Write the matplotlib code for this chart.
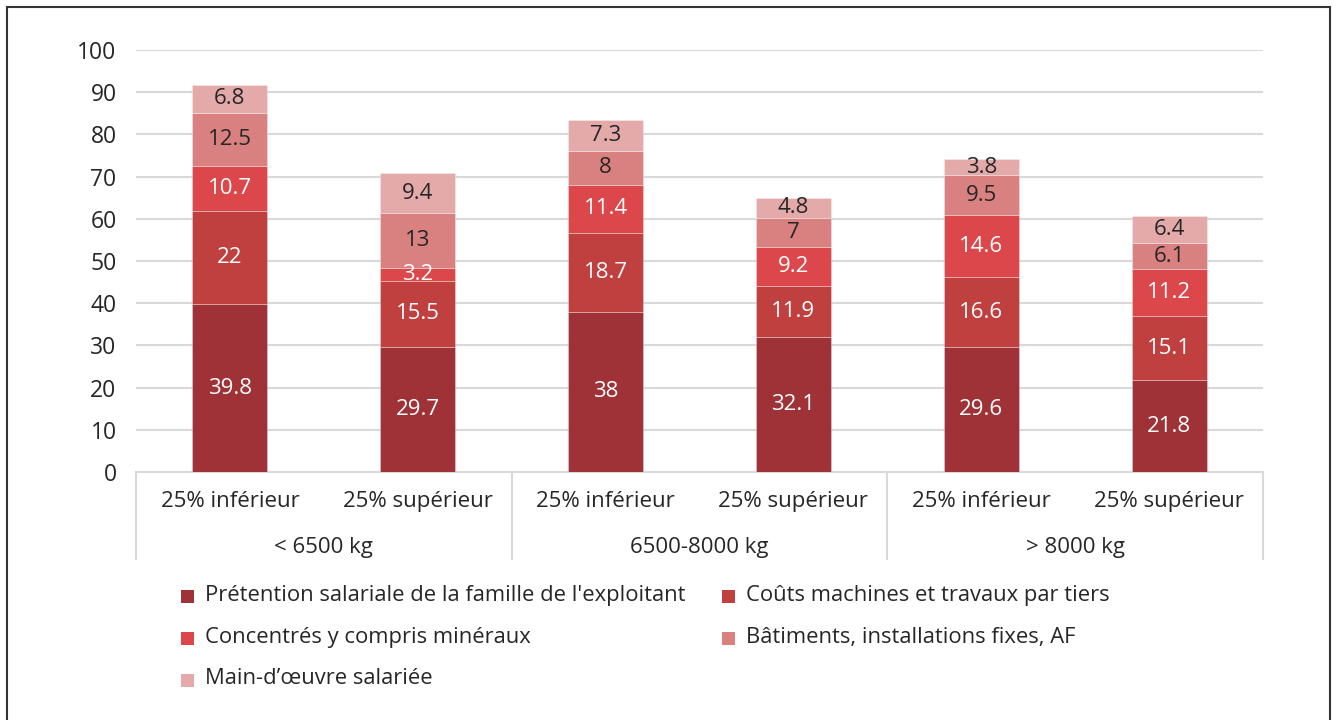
import matplotlib
matplotlib.use("Agg")
import matplotlib.pyplot as plt
from matplotlib.patches import Rectangle
import matplotlib.transforms as mtransforms

plt.rcParams['font.family'] = ['Open Sans', 'DejaVu Sans']

subcats = ["25% inférieur", "25% supérieur"] * 3
groups = ["< 6500 kg", "6500-8000 kg", "> 8000 kg"]
series_names = [
    "Prétention salariale de la famille de l'exploitant",
    "Coûts machines et travaux par tiers",
    "Concentrés y compris minéraux",
    "Bâtiments, installations fixes, AF",
    "Main-d’œuvre salariée",
]
pretention = [39.8, 29.7, 38, 32.1, 29.6, 21.8]
machines = [22, 15.5, 18.7, 11.9, 16.6, 15.1]
concentres = [10.7, 3.2, 11.4, 9.2, 14.6, 11.2]
batiments = [12.5, 13, 8, 7, 9.5, 6.1]
main_oeuvre = [6.8, 9.4, 7.3, 4.8, 3.8, 6.4]
series = [pretention, machines, concentres, batiments, main_oeuvre]
colors = ["#9E3236", "#BF403F", "#DB474A", "#D98080", "#E4A9A9"]
label_colors = ["white", "white", "white", "#262626", "#262626"]
yticks = [0, 10, 20, 30, 40, 50, 60, 70, 80, 90, 100]

W, H = 1336, 720
FS = 16
fig = plt.figure(figsize=(W / 100, H / 100), dpi=100)
ax = fig.add_axes([136 / W, 1 - 472 / H, (1263 - 136) / W, (472 - 50) / H])

x = list(range(len(subcats)))
bottom = [0.0] * len(x)
for s, name, c, lc in zip(series, series_names, colors, label_colors):
    ax.bar(x, s, 0.4, bottom=bottom, color=c, edgecolor=(1, 1, 1, 0.35),
           linewidth=0.6, zorder=3, label=name)
    for xi, b, v in zip(x, bottom, s):
        ax.text(xi, b + v / 2, f"{v:g}", ha="center", va="center", fontsize=FS,
                color=lc, zorder=4)
    bottom = [b + v for b, v in zip(bottom, s)]

ax.set_xlim(-0.5, len(x) - 0.5)
ax.set_ylim(0, 100)
ax.set_yticks(yticks)
ax.yaxis.grid(True, color="#D9D9D9", linewidth=1.5, zorder=0)
ax.set_axisbelow(True)
for sp in ["top", "right", "left"]:
    ax.spines[sp].set_visible(False)
ax.spines["bottom"].set_color("#D9D9D9")
ax.spines["bottom"].set_linewidth(1.5)
ax.tick_params(axis="y", length=0, pad=14, labelsize=16.5, labelcolor="#262626")
ax.tick_params(axis="x", length=0, pad=14, labelsize=FS, labelcolor="#262626")
ax.set_xticks(x)
ax.set_xticklabels(subcats)

trans = mtransforms.blended_transform_factory(ax.transData, ax.transAxes)
for sep in [-0.5, 1.5, 3.5, 5.5]:
    ax.plot([sep, sep], [0, -0.205], transform=trans, color="#D9D9D9",
            linewidth=1.5, clip_on=False)
for gi, g in enumerate(groups):
    ax.text(2 * gi + 0.5, -0.179, g, transform=trans, ha="center", va="center",
            fontsize=FS, color="#262626")

# legend
legend_pos = [(181, 596), (722, 596), (181, 638), (722, 638), (181, 680)]
for (px, py), name, c in zip(legend_pos, series_names, colors):
    fig.patches.append(Rectangle((px / W, 1 - (py + 6.5) / H), 13 / W, 13 / H,
                                 transform=fig.transFigure, facecolor=c,
                                 edgecolor="none"))
    fig.text((px + 24) / W, 1 - (py - 1) / H, name, ha="left", va="center",
             fontsize=15.8, color="#262626")

fig.patches.append(Rectangle((7 / W, -0.05), (1330 - 7) / W, 1.05 - 7 / H,
                             transform=fig.transFigure, facecolor="none",
                             edgecolor="#333333", linewidth=1.5))

fig.savefig("out.png", dpi=100)
